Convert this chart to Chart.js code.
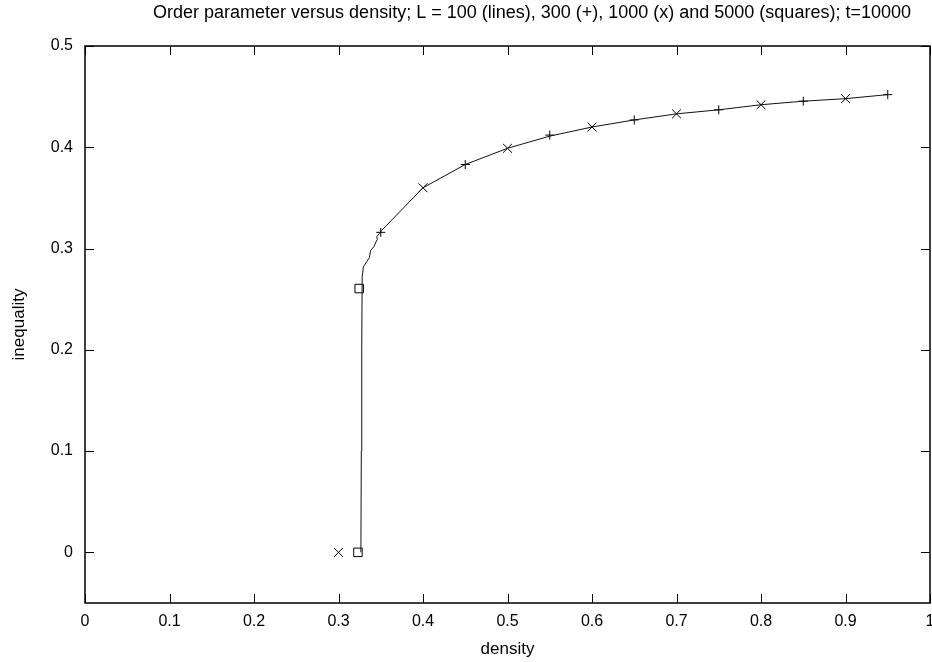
<!DOCTYPE html>
<html><head><meta charset="utf-8">
<script src="https://cdn.jsdelivr.net/npm/chart.js@4/dist/chart.umd.min.js"></script>
<style>html,body{margin:0;padding:0;background:#fff}</style>
</head><body>
<canvas id="c" width="932" height="662"></canvas>
<script>
const titleText = 'Order parameter versus density; L = 100 (lines), 300 (+), 1000 (x) and 5000 (squares); t=10000';
const xTickValues = [0, 0.1, 0.2, 0.3, 0.4, 0.5, 0.6, 0.7, 0.8, 0.9, 1];
const yTickValues = [0, 0.1, 0.2, 0.3, 0.4, 0.5];

// L = 100 (line)
const lineX = [0.3265, 0.327, 0.3275, 0.328, 0.3295, 0.3333, 0.3365, 0.338, 0.342, 0.3444, 0.346, 0.3452, 0.3483, 0.35, 0.4, 0.45, 0.5, 0.55, 0.6, 0.65, 0.7, 0.75, 0.8, 0.85, 0.9, 0.95];
const lineY = [0, 0.1, 0.2, 0.272, 0.282, 0.287, 0.291, 0.298, 0.302, 0.3066, 0.309, 0.3116, 0.315, 0.317, 0.36, 0.383, 0.399, 0.411, 0.42, 0.427, 0.433, 0.437, 0.442, 0.4455, 0.448, 0.452];
// L = 300 (+)
const plusX = [0.35, 0.45, 0.55, 0.65, 0.75, 0.85, 0.95];
const plusY = [0.316, 0.383, 0.412, 0.427, 0.437, 0.4455, 0.452];
// L = 1000 (x)
const crossX = [0.3, 0.4, 0.5, 0.6, 0.7, 0.8, 0.9];
const crossY = [0, 0.36, 0.399, 0.42, 0.433, 0.442, 0.448];
// L = 5000 (squares)
const squareX = [0.323, 0.3245];
const squareY = [0, 0.2605];

const pts = (xs, ys) => xs.map((x, i) => ({x: x, y: ys[i]}));
const FONT = 'Liberation Sans, Arial, sans-serif';

const framePlugin = {
  id: 'frame',
  afterDraw(chart) {
    const {ctx} = chart;
    ctx.save();
    ctx.fillStyle = '#000';
    ctx.font = '18px ' + FONT;
    ctx.textAlign = 'center';
    ctx.textBaseline = 'middle';
    ctx.fillText(titleText, 532, 13);
    ctx.restore();
  },
  afterDatasetsDraw(chart) {
    const {ctx, chartArea: a, scales: {x, y}} = chart;
    ctx.save();
    ctx.strokeStyle = '#000';
    ctx.lineWidth = 1;
    const tl = 9;
    ctx.beginPath();
    xTickValues.forEach(v => {
      const px = Math.round(x.getPixelForValue(v)) + 0.5;
      ctx.moveTo(px, a.bottom); ctx.lineTo(px, a.bottom - tl);
      ctx.moveTo(px, a.top); ctx.lineTo(px, a.top + tl);
    });
    yTickValues.forEach(v => {
      const py = Math.round(y.getPixelForValue(v)) + 0.5;
      ctx.moveTo(a.left, py); ctx.lineTo(a.left + tl, py);
      ctx.moveTo(a.right, py); ctx.lineTo(a.right - tl, py);
    });
    ctx.stroke();
    ctx.lineWidth = 1.5;
    ctx.strokeRect(a.left, a.top, a.right - a.left, a.bottom - a.top);
    ctx.restore();
  }
};

new Chart(document.getElementById('c'), {
  type: 'scatter',
  data: {
    datasets: [
      {label: 'L=100', data: pts(lineX, lineY), showLine: true, borderColor: '#111', borderWidth: 1, pointRadius: 0, tension: 0},
      {label: 'L=300', data: pts(plusX, plusY), showLine: false, pointStyle: 'cross', pointRadius: 4.5, borderColor: '#000', borderWidth: 1, backgroundColor: 'transparent'},
      {label: 'L=1000', data: pts(crossX, crossY), showLine: false, pointStyle: 'crossRot', pointRadius: 6.3, borderColor: '#000', borderWidth: 1, backgroundColor: 'transparent'},
      {label: 'L=5000', data: pts(squareX, squareY), showLine: false, pointStyle: 'rect', pointRadius: 6, borderColor: '#000', borderWidth: 1, backgroundColor: 'transparent'}
    ]
  },
  options: {
    responsive: false,
    animation: false,
    devicePixelRatio: 1,
    layout: {autoPadding: false, padding: {top: 46, right: 2, left: 0, bottom: 0}},
    plugins: {
      legend: {display: false},
      tooltip: {enabled: false},
      title: {display: false}
    },
    scales: {
      x: {
        type: 'linear', min: 0, max: 1,
        afterBuildTicks: s => { s.ticks = xTickValues.map(v => ({value: v})); },
        afterFit: s => { s.height = 59; s.paddingLeft = 0; s.paddingRight = 0; },
        ticks: {color: '#000', font: {family: FONT, size: 16}, padding: 9, maxRotation: 0, autoSkip: false, callback: v => String(v)},
        grid: {display: false, drawTicks: false},
        border: {display: false},
        title: {display: true, text: 'density', color: '#000', font: {family: FONT, size: 17}, padding: {top: 0, bottom: 2}}
      },
      y: {
        type: 'linear', min: -0.05, max: 0.5,
        afterBuildTicks: s => { s.ticks = yTickValues.map(v => ({value: v})); },
        afterFit: s => { s.width = 85; s.paddingTop = 0; s.paddingBottom = 0; },
        ticks: {color: '#000', font: {family: FONT, size: 16}, padding: 12, autoSkip: false, callback: v => String(v)},
        grid: {display: false, drawTicks: false},
        border: {display: false},
        title: {display: true, text: 'inequality', color: '#000', font: {family: FONT, size: 17}, padding: {top: 9, bottom: 0}}
      }
    }
  },
  plugins: [framePlugin]
});
</script>
</body></html>
